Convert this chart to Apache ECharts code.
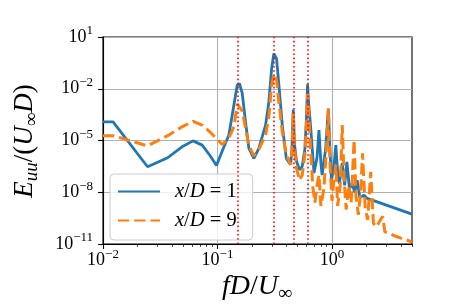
<!DOCTYPE html>
<html><head><meta charset="utf-8">
<script src="https://cdn.jsdelivr.net/npm/echarts@6/dist/echarts.min.js"></script>
<style>html,body{margin:0;padding:0;background:#fff}#c{width:457px;height:305px}</style>
</head><body><div id="c"></div>
<script>
// ---- data ----
const seriesNames = ['x/D = 1', 'x/D = 9'];
const freqNear = [0.01, 0.01225, 0.0245, 0.0367, 0.049, 0.0612, 0.0735, 0.0857, 0.098, 0.110, 0.1256, 0.139, 0.1487, 0.1557, 0.1644, 0.1758, 0.188, 0.208, 0.2297, 0.263, 0.281, 0.297, 0.311, 0.328, 0.344, 0.368, 0.399, 0.435, 0.447, 0.459, 0.47, 0.49, 0.52, 0.55, 0.58, 0.60, 0.612, 0.625, 0.651, 0.697, 0.74, 0.77, 0.80, 0.82, 0.88, 0.93, 0.96, 0.99, 1.04, 1.08, 1.12, 1.16, 1.23, 1.29, 1.35, 1.42, 1.50, 1.58, 1.66, 1.75, 1.91, 2.03, 5.0];
const euuNear = [1.2e-4, 1.2e-4, 3.0e-7, 1.0e-6, 4.3e-6, 9.5e-6, 5.4e-6, 1.4e-6, 3.5e-7, 2.5e-6, 2.0e-5, 1.1e-3, 1.6e-2, 2.0e-2, 5.5e-3, 1.2e-4, 3.5e-6, 9.1e-7, 3.5e-6, 7.8e-5, 1.7e-3, 0.148, 1.1, 0.56, 1.6e-2, 7.8e-5, 9.1e-7, 4.0e-7, 3.2e-6, 6.3e-4, 6.3e-6, 6.3e-7, 2.0e-7, 3.2e-7, 3.2e-6, 3.2e-4, 1.8e-2, 1.6e-3, 6.2e-5, 1.3e-7, 1.0e-6, 4.0e-5, 5.0e-7, 1.0e-7, 3.2e-6, 7.1e-4, 3.2e-6, 5.0e-8, 3.2e-7, 5.4e-6, 1.6e-7, 3.2e-8, 5.0e-7, 2.5e-8, 5.8e-7, 1.6e-8, 3.2e-8, 1.0e-8, 5.0e-8, 5.0e-9, 6.8e-9, 4.4e-9, 5.4e-10];
const freqFar = [0.01, 0.01225, 0.0245, 0.0367, 0.049, 0.0612, 0.0735, 0.0857, 0.098, 0.110, 0.125, 0.139, 0.149, 0.155, 0.165, 0.176, 0.188, 0.208, 0.23, 0.263, 0.281, 0.297, 0.311, 0.328, 0.344, 0.368, 0.399, 0.435, 0.447, 0.459, 0.47, 0.49, 0.52, 0.55, 0.58, 0.60, 0.612, 0.625, 0.651, 0.68, 0.71, 0.74, 0.77, 0.80, 0.85, 0.90, 0.93, 0.96, 1.0, 1.04, 1.08, 1.12, 1.18, 1.23, 1.28, 1.33, 1.40, 1.47, 1.56, 1.62, 1.70, 1.78, 1.85, 1.95, 2.05, 2.18, 2.3, 2.45, 2.6, 2.77, 2.9, 3.2, 3.6, 4.0, 4.5, 5.0];
const euuFar = [1.9e-5, 1.9e-5, 4.9e-6, 1.9e-5, 6.2e-5, 1.3e-4, 7.8e-5, 3.2e-5, 1.3e-5, 5.9e-6, 1.3e-5, 6.3e-5, 1.3e-3, 1.6e-3, 5.0e-4, 5.0e-5, 5.0e-6, 1.3e-6, 3.2e-6, 2.0e-5, 2.5e-4, 1.6e-2, 7.1e-2, 3.2e-2, 1.6e-3, 3.2e-5, 1.6e-6, 4.0e-7, 2.5e-6, 4.0e-4, 4.0e-6, 2.5e-7, 5.0e-8, 1.0e-7, 1.6e-6, 1.0e-4, 5.0e-3, 5.0e-4, 3.2e-6, 2.0e-8, 2.5e-9, 2.5e-8, 1.0e-7, 1.6e-9, 1.6e-8, 6.3e-6, 7.1e-4, 5.0e-7, 3.2e-9, 5.0e-8, 4.0e-7, 1.6e-9, 2.5e-8, 7.8e-5, 4.0e-8, 1.0e-9, 2.5e-8, 2.5e-9, 1.1e-5, 6.3e-9, 5.0e-10, 1.0e-8, 1.8e-6, 1.3e-9, 2.5e-10, 1.5e-7, 1.6e-10, 1.0e-10, 2.0e-10, 4.0e-10, 5.0e-11, 4.0e-11, 2.8e-11, 2.2e-11, 1.7e-11, 1.3e-11];
const peakFreqs = [0.153, 0.306, 0.459, 0.612];
const xMajorTicks = [0.01, 0.1, 1];
const xMinorTicks = [0.02, 0.03, 0.04, 0.05, 0.06, 0.07, 0.08, 0.09, 0.2, 0.3, 0.4, 0.5, 0.6, 0.7, 0.8, 0.9, 2, 3, 4, 5];
const yMajorTicks = [1e-11, 1e-8, 1e-5, 1e-2, 10];

// ---- chart ----
const SERIF = 'Liberation Serif';
const zip = (a, b) => a.map((v, i) => [v, b[i]]);
function pow10Label(v) {
  const e = Math.round(Math.log10(v));
  return '{b|10}{s|' + (e < 0 ? '\u2212' + (-e) : String(e)) + '}';
}
const tickRich = {
  b: { fontFamily: SERIF, fontSize: 18, color: '#000' },
  s: { fontFamily: SERIF, fontSize: 13, color: '#000', padding: [0, 0, 12, 0] }
};
const mathRich = (size) => ({
  i: { fontFamily: SERIF, fontStyle: 'italic', fontSize: size, color: '#000' },
  r: { fontFamily: SERIF, fontSize: size, color: '#000' },
  si: { fontFamily: SERIF, fontStyle: 'italic', fontSize: size * 0.7, color: '#000', padding: [size * 0.5, 0, 0, 0] },
  sr: { fontFamily: SERIF, fontSize: size * 0.7, color: '#000', padding: [size * 0.5, 0, 0, 0] }
});
const legendLabel = { 'x/D = 1': '{i|x}{r|/}{i|D}{r| = 1}', 'x/D = 9': '{i|x}{r|/}{i|D}{r| = 9}' };

const chart = echarts.init(document.getElementById('c'), null, { renderer: 'canvas' });
chart.setOption({
  animation: false,
  backgroundColor: '#fff',
  grid: { left: 103, top: 37, right: 45, bottom: 61, show: true, borderColor: '#000', borderWidth: 1.1, backgroundColor: 'transparent' },
  xAxis: [{
    type: 'log', logBase: 10, min: 0.01, max: 5, interval: 1,
    axisLine: { show: true, lineStyle: { color: '#000', width: 1.1 } },
    axisTick: { show: true, inside: false, length: 4.9, lineStyle: { color: '#000', width: 1.1 }, customValues: xMajorTicks },
    axisLabel: { customValues: xMajorTicks, formatter: pow10Label, rich: tickRich, margin: 4, color: '#000' },
    splitLine: { show: true, lineStyle: { color: '#b0b0b0', width: 1.1 } },
    minorTick: { show: false }
  }, {
    type: 'log', logBase: 10, min: 0.01, max: 5, position: 'bottom', offset: 0,
    axisLine: { show: false },
    axisTick: { show: true, inside: false, length: 2.8, lineStyle: { color: '#000', width: 0.8 }, customValues: xMinorTicks },
    axisLabel: { show: false },
    splitLine: { show: false }
  }],
  yAxis: {
    type: 'log', logBase: 10, min: 1e-11, max: 10, interval: 3,
    axisLine: { show: true, lineStyle: { color: '#000', width: 1.1 } },
    axisTick: { show: true, inside: false, length: 4.9, lineStyle: { color: '#000', width: 1.1 }, customValues: yMajorTicks },
    axisLabel: { customValues: yMajorTicks, formatter: pow10Label, rich: tickRich, margin: 10, color: '#000' },
    splitLine: { show: true, lineStyle: { color: '#b0b0b0', width: 1.1 } }
  },
  legend: {
    orient: 'vertical', left: 110, top: 174,
    padding: [7, 16, 9, 7], itemWidth: 42, itemHeight: 14, itemGap: 8,
    borderColor: '#cccccc', borderWidth: 1, borderRadius: 4,
    backgroundColor: 'rgba(255,255,255,0.8)',
    itemStyle: { opacity: 0 },
    data: seriesNames,
    formatter: (n) => legendLabel[n],
    textStyle: { padding: [0, 0, 0, 10], rich: mathRich(20.5) }
  },
  graphic: [{
    type: 'text', x: 257, y: 287, z: 10,
    style: { text: '{i|f}{i|D}{r|/}{i|U}{sr|\u221e}', rich: mathRich(28), align: 'center', verticalAlign: 'middle' }
  }, {
    type: 'text', x: 25, y: 141, rotation: Math.PI / 2, z: 10,
    style: { text: '{i|E}{si|uu}{r|/(}{i|U}{sr|\u221e}{i|D}{r|)}', rich: mathRich(27), align: 'center', verticalAlign: 'middle' }
  }],
  series: [{
    name: seriesNames[0], type: 'line', xAxisIndex: 0, data: zip(freqNear, euuNear),
    showSymbol: false, symbol: 'none', clip: true,
    lineStyle: { color: '#1f77b4', width: 2.8 }, itemStyle: { color: '#1f77b4' }
  }, {
    name: seriesNames[1], type: 'line', xAxisIndex: 0, data: zip(freqFar, euuFar),
    showSymbol: false, symbol: 'none', clip: true,
    lineStyle: { color: '#ff7f0e', width: 3, type: [11.3, 4.9] }, itemStyle: { color: '#ff7f0e' },
    markLine: {
      silent: true, symbol: 'none', label: { show: false },
      lineStyle: { color: '#ff0000', width: 1.6, type: [1.6, 2.6], opacity: 1 },
      data: peakFreqs.map(f => ({ xAxis: f }))
    }
  }]
});
</script></body></html>
